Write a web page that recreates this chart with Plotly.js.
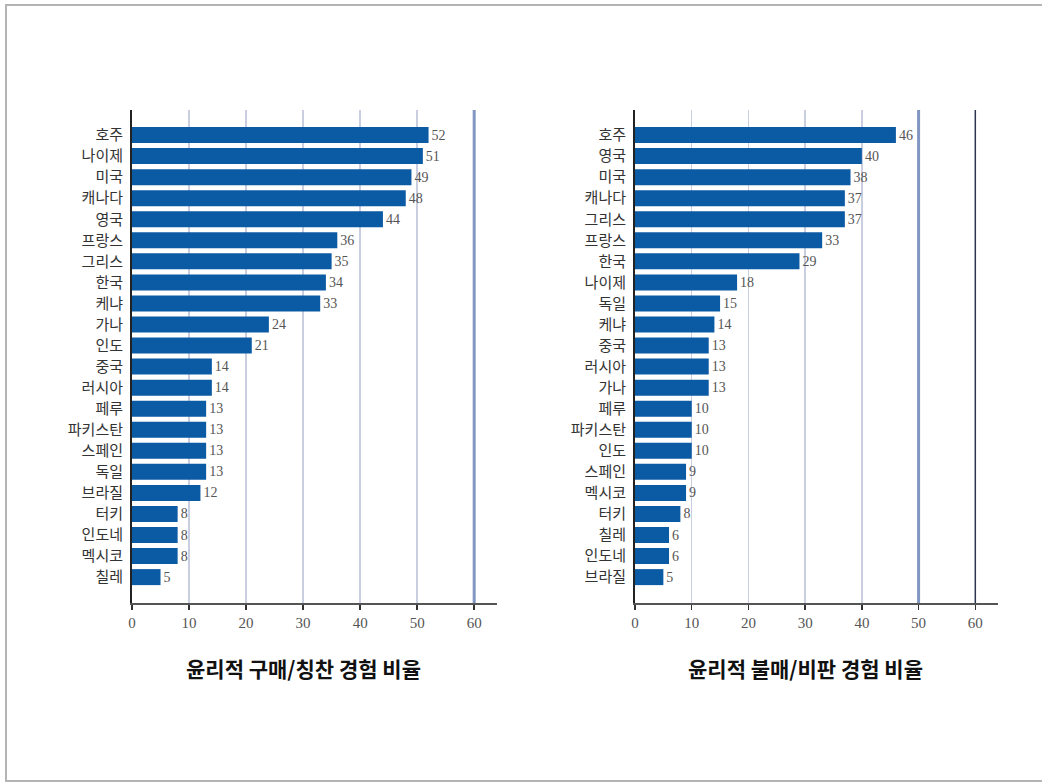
<!DOCTYPE html>
<html>
<head>
<meta charset="utf-8">
<script src="https://cdn.plot.ly/plotly-3.0.1.min.js"></script>
<style>
  html, body { margin: 0; padding: 0; background: #fff; }
  #chart { width: 1042px; height: 784px; }
</style>
</head>
<body>
<div id="chart"></div>
<script>
// 윤리적 구매/칭찬 경험 비율 (%)
const praiseCountries = ['호주', '나이제', '미국', '캐나다', '영국', '프랑스', '그리스', '한국', '케냐', '가나', '인도',
  '중국', '러시아', '페루', '파키스탄', '스페인', '독일', '브라질', '터키', '인도네', '멕시코', '칠레'];
const praiseValues = [52, 51, 49, 48, 44, 36, 35, 34, 33, 24, 21, 14, 14, 13, 13, 13, 13, 12, 8, 8, 8, 5];

// 윤리적 불매/비판 경험 비율 (%)
const boycottCountries = ['호주', '영국', '미국', '캐나다', '그리스', '프랑스', '한국', '나이제', '독일', '케냐', '중국',
  '러시아', '가나', '페루', '파키스탄', '인도', '스페인', '멕시코', '터키', '칠레', '인도네', '브라질'];
const boycottValues = [46, 40, 38, 37, 37, 33, 29, 18, 15, 14, 13, 13, 13, 10, 10, 10, 9, 9, 8, 6, 6, 5];

const xTicks = [0, 10, 20, 30, 40, 50, 60];
const titles = ['윤리적 구매/칭찬 경험 비율', '윤리적 불매/비판 경험 비율'];

const W = 1042, H = 784;
const px = v => v / W;
const py = v => 1 - v / H;

const barColor = '#0b5aa4';
const serif = '"Liberation Serif", "DejaVu Serif", serif';
const kr = '"Noto Sans CJK KR", "Noto Sans", sans-serif';

function barTrace(cats, vals, xa, ya) {
  return {
    type: 'bar', orientation: 'h',
    y: cats, x: vals,
    xaxis: xa, yaxis: ya,
    marker: { color: barColor, line: { width: 0 } },
    text: vals.map(String),
    textposition: 'outside',
    cliponaxis: false,
    textfont: { family: serif, size: 14, color: '#555' },
    hoverinfo: 'skip'
  };
}

function xAxis(domain, anchor) {
  return {
    domain: domain, anchor: anchor,
    range: [0, 64],
    tickvals: xTicks, ticktext: xTicks.map(String),
    ticks: 'outside', ticklen: 5, tickwidth: 1.5, tickcolor: '#333',
    tickfont: { family: serif, size: 15, color: '#555' },
    showgrid: true, gridcolor: '#c9cee0', gridwidth: 1.5,
    showline: true, linecolor: '#555', linewidth: 1.5,
    zeroline: false, fixedrange: true
  };
}

function yAxis(anchor) {
  return {
    domain: [py(603), py(110)], anchor: anchor,
    type: 'category',
    range: [22.23, -1.19],
    showline: true, linecolor: '#222', linewidth: 2,
    ticks: '', showgrid: false, zeroline: false,
    tickfont: { family: kr, size: 15, color: '#333' },
    ticklabelstandoff: 4,
    fixedrange: true
  };
}

function vline(xref, x, color, width) {
  return { type: 'line', xref: xref, yref: 'paper', x0: x, x1: x, y0: py(603), y1: py(110),
    line: { color: color, width: width }, layer: 'above' };
}

const layout = {
  width: W, height: H,
  margin: { l: 0, r: 0, t: 0, b: 0 },
  paper_bgcolor: '#fff', plot_bgcolor: 'rgba(0,0,0,0)',
  showlegend: false,
  bargap: 0.24,
  xaxis: xAxis([px(132), px(497)], 'y'),
  yaxis: yAxis('x'),
  xaxis2: xAxis([px(635), px(998)], 'y2'),
  yaxis2: yAxis('x2'),
  shapes: [
    // frame around the figure
    { type: 'rect', xref: 'paper', yref: 'paper', x0: px(6), x1: px(1060), y0: py(781), y1: py(5),
      line: { color: '#b4b4b4', width: 2 }, fillcolor: 'rgba(0,0,0,0)' },
    vline('x', 60, '#8296c4', 3),
    vline('x2', 50, '#8296c4', 3),
    vline('x2', 60, '#2b3550', 1.5)
  ],
  annotations: [
    { xref: 'x', yref: 'paper', x: 30, y: py(668), text: '<b>' + titles[0] + '</b>', showarrow: false,
      font: { family: kr, size: 21, color: '#111' }, xanchor: 'center', yanchor: 'middle' },
    { xref: 'x2', yref: 'paper', x: 30, y: py(668), text: '<b>' + titles[1] + '</b>', showarrow: false,
      font: { family: kr, size: 21, color: '#111' }, xanchor: 'center', yanchor: 'middle' }
  ]
};

Plotly.newPlot('chart', [
  barTrace(praiseCountries, praiseValues, 'x', 'y'),
  barTrace(boycottCountries, boycottValues, 'x2', 'y2')
], layout, { displayModeBar: false, staticPlot: true });
</script>
</body>
</html>
